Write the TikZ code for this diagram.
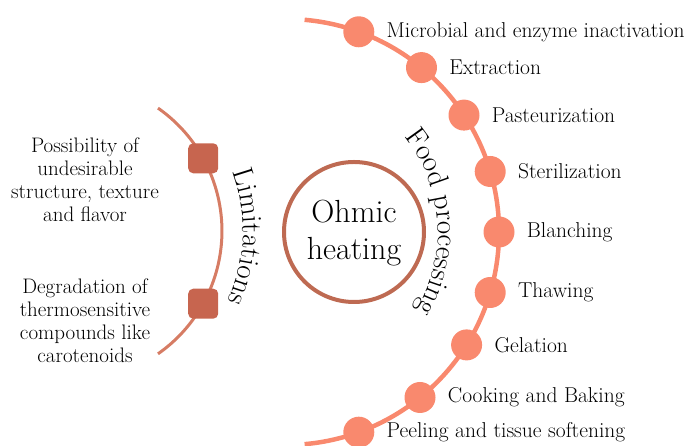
\documentclass[tikz,border=0pt]{standalone}
\usetikzlibrary{decorations.text}
\definecolor{dotsalmon}{RGB}{249,137,110}
\definecolor{limbrown}{RGB}{214,124,100}
\definecolor{boxbrown}{RGB}{199,101,79}
\definecolor{ringbrown}{RGB}{190,106,82}
\begin{document}
\begin{tikzpicture}[x=1pt,y=1pt,
  dot/.style={circle, fill=dotsalmon, minimum size=31pt, inner sep=0pt},
  box/.style={rounded corners=5pt, fill=boxbrown, minimum size=30pt, inner sep=0pt},
  item/.style={anchor=west, inner sep=0pt, font=\fontsize{21.5}{24}\selectfont},
  note/.style={align=center, inner sep=0pt, font=\fontsize{21}{23}\selectfont}]
\useasboundingbox (0,0) rectangle (694,446);
\draw[dotsalmon, line width=4.5pt] (304.6,426.2) arc [start angle=85, end angle=-85, radius=213pt];
\draw[limbrown, line width=3pt] (158.0,337.9) arc [start angle=55, end angle=-55, radius=150pt];
\draw[ringbrown, line width=4pt] (354,214) circle [radius=70pt];
\node[align=center, font=\fontsize{32}{37}\selectfont] (ohmic) at (354,213) {Ohmic\\heating};
\node[dot] (inact) at (358.8,414.2) {};
\node[dot] (extr) at (421.5,378.4) {};
\node[dot] (past) at (464.0,330.9) {};
\node[dot] (ster) at (490.2,274.5) {};
\node[dot] (blanch) at (499.0,214.0) {};
\node[dot] (thaw) at (490.2,153.5) {};
\node[dot] (gel) at (466.6,101.1) {};
\node[dot] (cook) at (420.0,48.5) {};
\node[dot] (peel) at (358.8,13.8) {};
\node[item] (inact-t) at ([xshift=12pt]inact.east) {Microbial and enzyme inactivation};
\node[item] (extr-t) at ([xshift=12pt]extr.east) {Extraction};
\node[item] (past-t) at ([xshift=12pt]past.east) {Pasteurization};
\node[item] (ster-t) at ([xshift=12pt]ster.east) {Sterilization};
\node[item] (blanch-t) at ([xshift=12pt]blanch.east) {Blanching};
\node[item] (thaw-t) at ([xshift=12pt]thaw.east) {Thawing};
\node[item] (gel-t) at ([xshift=12pt]gel.east) {Gelation};
\node[item] (cook-t) at ([xshift=12pt]cook.east) {Cooking and Baking};
\node[item] (peel-t) at ([xshift=12pt]peel.east) {Peeling and tissue softening};
\node[box] (texture) at (203.2,287.7) {};
\node[box] (degrade) at (203.2,142.3) {};
\node[note] (texture-t) at (85,266) {Possibility of\\undesirable\\structure, texture\\and flavor};
\node[note] (degrade-t) at (85,125) {Degradation of\\thermosensitive\\compounds like\\carotenoids};
\path[decorate, decoration={text along path, text align=center,
    text={|\fontsize{29}{29}\selectfont|Food processing}}]
  (373.2,338.5) arc [start angle=55, end angle=-47, radius=152pt];
\path[decorate, decoration={text along path, text align=center,
    text={|\fontsize{29}{29}\selectfont|Limitations}}]
  (203.0,324.9) arc [start angle=40, end angle=-44, radius=171pt];
\end{tikzpicture}
\end{document}
